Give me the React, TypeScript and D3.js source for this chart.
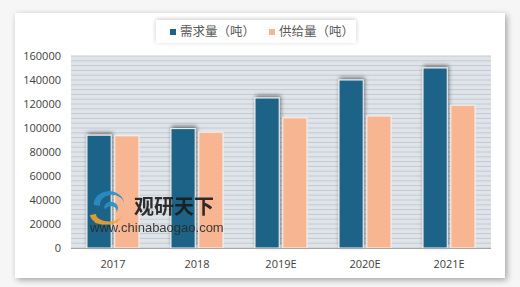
import React from "react";
import * as d3 from "d3";

const categories = ["2017", "2018", "2019E", "2020E", "2021E"];
const demand = [94000, 99500, 125000, 140000, 150000];
const supply = [93500, 96500, 108500, 110000, 119000];
const seriesNames = ["需求量（吨）", "供给量（吨）"];
const yTicks = [0, 20000, 40000, 60000, 80000, 100000, 120000, 140000, 160000];

const W = 520, H = 287;
const plot = { left: 71, right: 491, top: 56, bottom: 248 };
const colors = ["#1b6487", "#f8b592"];

export default function App() {
  const x0 = d3.scaleBand<string>().domain(categories).range([plot.left, plot.right]).paddingInner(0.381).paddingOuter(0.19);
  const x1 = d3.scaleBand<string>().domain(seriesNames).range([0, x0.bandwidth()]).paddingInner(0.13);
  const y = d3.scaleLinear().domain([0, 160000]).range([plot.bottom, plot.top]);
  const stripes = d3.range(0, 160001, 4000);
  const font = "'Open Sans', 'DejaVu Sans', sans-serif";
  const cjk = "'Noto Sans CJK SC', sans-serif";
  const values = [demand, supply];

  return (
    <svg width={W} height={H} style={{ position: "absolute", left: 0, top: 0 }}>
      <defs>
        <filter id="cardShadow" x="-10%" y="-10%" width="120%" height="120%">
          <feGaussianBlur in="SourceAlpha" stdDeviation="3" />
          <feOffset dx="2" dy="2" result="b" />
          <feComponentTransfer><feFuncA type="linear" slope="0.35" /></feComponentTransfer>
          <feMerge><feMergeNode /><feMergeNode in="SourceGraphic" /></feMerge>
        </filter>
        <filter id="barShadow" x="-40%" y="-20%" width="180%" height="140%">
          <feGaussianBlur in="SourceAlpha" stdDeviation="2" />
          <feOffset dx="1" dy="-2" result="b" />
          <feComponentTransfer><feFuncA type="linear" slope="0.5" /></feComponentTransfer>
          <feMerge><feMergeNode /><feMergeNode in="SourceGraphic" /></feMerge>
        </filter>
        <filter id="legShadow" x="-10%" y="-40%" width="120%" height="180%">
          <feGaussianBlur in="SourceAlpha" stdDeviation="2.5" />
          <feOffset dx="0" dy="-1" />
          <feComponentTransfer><feFuncA type="linear" slope="0.2" /></feComponentTransfer>
          <feMerge><feMergeNode /><feMergeNode in="SourceGraphic" /></feMerge>
        </filter>
      </defs>
      <rect x={0} y={0} width={W} height={H} fill="#f6f6f6" />
      <rect x={15} y={13} width={490} height={265} fill="#ffffff" filter="url(#cardShadow)" />

      {/* plot background with stripes */}
      <rect x={plot.left} y={plot.top} width={plot.right - plot.left} height={plot.bottom - plot.top} fill="#dfe4e9" />
      {stripes.map((v) => (
        <line key={v} x1={plot.left} x2={plot.right} y1={y(v)} y2={y(v)} stroke="#c3cad2" strokeWidth={1} />
      ))}

      {/* bars */}
      {categories.map((c, i) =>
        seriesNames.map((s, j) => {
          const bx = (x0(c) as number) + (x1(s) as number);
          const by = y(values[j][i]);
          return (
            <rect
              key={c + s}
              x={bx}
              y={by}
              width={x1.bandwidth()}
              height={plot.bottom - by}
              fill={colors[j]}
              stroke="#f4f4f4"
              strokeWidth={1}
              filter={j === 0 ? "url(#barShadow)" : undefined}
            />
          );
        })
      )}

      <line x1={plot.left} x2={plot.right} y1={plot.bottom + 0.5} y2={plot.bottom + 0.5} stroke="#a6a6a6" strokeWidth={1} />

      {/* y ticks */}
      {yTicks.map((t) => (
        <text key={t} x={61} y={y(t)} dy="0.35em" textAnchor="end" fontFamily={font} fontSize={11} fill="#404040">
          {t}
        </text>
      ))}
      {/* x labels */}
      {categories.map((c) => (
        <text key={c} x={(x0(c) as number) + x0.bandwidth() / 2} y={264} dy="0.35em" textAnchor="middle" fontFamily={font} fontSize={11} fill="#404040">
          {c}
        </text>
      ))}

      {/* legend */}
      <rect x={156} y={20} width={200} height={23} fill="#ffffff" filter="url(#legShadow)" />
      {seriesNames.map((s, j) => {
        const lx = j === 0 ? 170 : 269;
        return (
          <g key={s}>
            <rect x={lx} y={29} width={6} height={6} fill={colors[j]} />
            <text x={lx + 10} y={32} dy="0.35em" fontFamily={cjk} fontSize={12.5} fill="#595959">
              {s}
            </text>
          </g>
        );
      })}

      {/* watermark */}
      <g opacity={0.9}>
        <path d="M 94 205 A 14 12 0 0 1 124 203 A 10 8 0 0 0 100 206 Z" fill="#2a8fc4" />
        <path d="M 104 208 A 7 6 0 1 1 116 212 A 5 4 0 1 0 106 209 Z" fill="#2a8fc4" />
        <path d="M 90 215 A 16 10 0 0 0 122 214 A 12 7 0 0 1 96 214 Z" fill="#f0a22e" />
        <path d="M 94 222 A 14 6 0 0 0 118 221 A 10 4 0 0 1 98 220 Z" fill="#f0a22e" />
        <text x={134} y={207} dy="0.35em" fontFamily={cjk} fontWeight={700} fontSize={20} fill="#1a1a1a">
          观研天下
        </text>
        <text x={90} y={232} fontFamily="'Liberation Sans', Arial, sans-serif" fontSize={13} fill="#2a2a2a">
          www.chinabaogao.com
        </text>
      </g>
    </svg>
  );
}
